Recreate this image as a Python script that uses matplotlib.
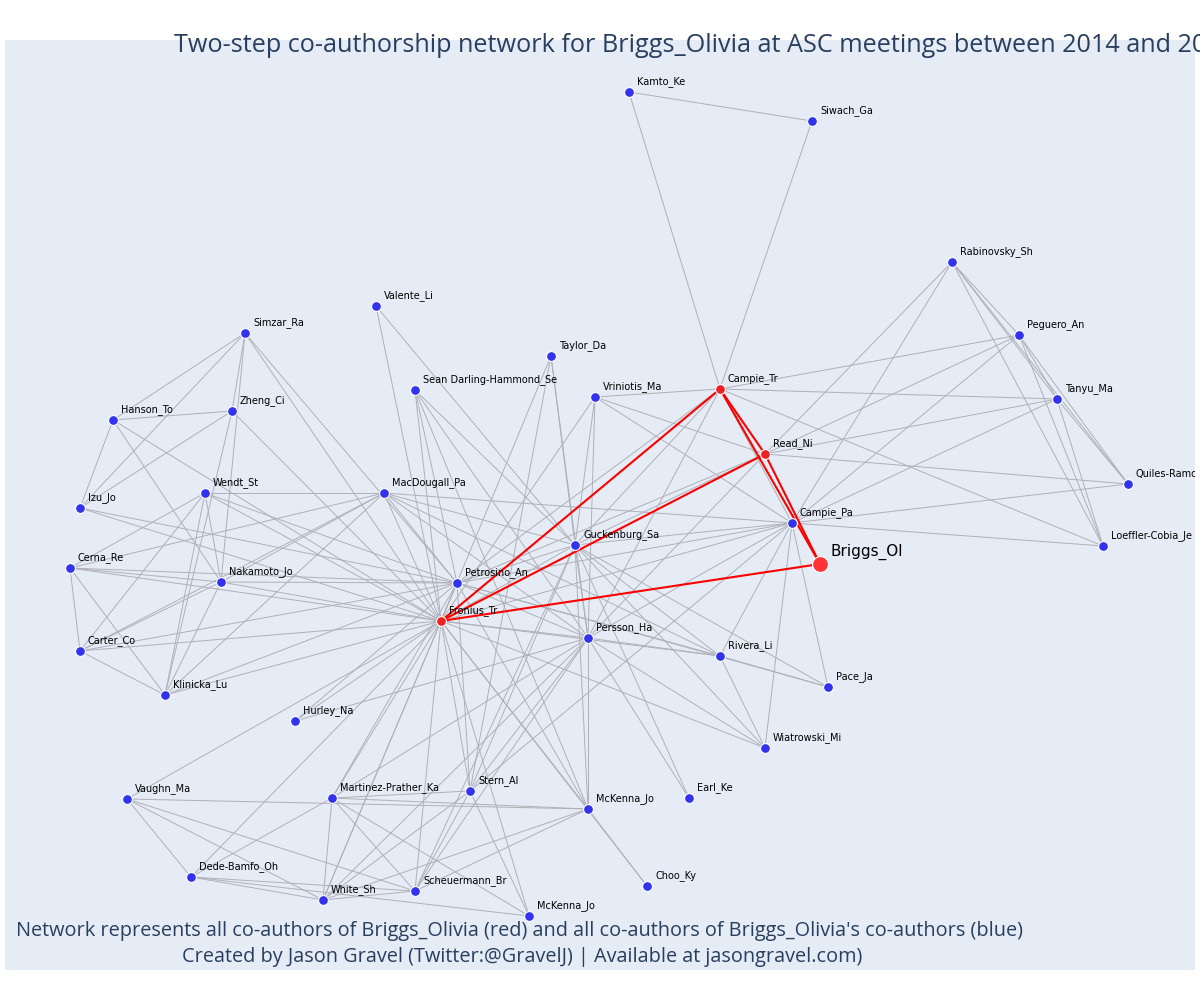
import matplotlib.pyplot as plt

# node positions (pixel space)
names = ["Kamto_Ke", "Siwach_Ga", "Rabinovsky_Sh", "Peguero_An", "Tanyu_Ma", "Quiles-Ramos",
         "Loeffler-Cobia_Je", "Valente_Li", "Simzar_Ra", "Taylor_Da", "Campie_Tr",
         "Sean Darling-Hammond_Se", "Vriniotis_Ma", "Read_Ni", "Hanson_To", "Zheng_Ci",
         "Wendt_St", "MacDougall_Pa", "Izu_Jo", "Campie_Pa", "Guckenburg_Sa", "Cerna_Re",
         "Nakamoto_Jo", "Petrosino_An", "Briggs_Ol", "Fronius_Tr", "Persson_Ha", "Carter_Co",
         "Rivera_Li", "Klinicka_Lu", "Pace_Ja", "Hurley_Na", "Wiatrowski_Mi", "Vaughn_Ma",
         "Martinez-Prather_Ka", "Stern_Al", "Earl_Ke", "McKenna_Jo", "Choo_Ky",
         "Dede-Bamfo_Oh", "Scheuermann_Br", "White_Sh", "McKenna_Jo2"]
xs = [629, 812, 952, 1019, 1057, 1128, 1103, 376, 245, 551, 720, 415, 595, 765, 113, 232,
      205, 384, 80, 792, 575, 70, 221, 457, 820, 441, 588, 80, 720, 165, 828, 295, 765, 127,
      332, 470, 689, 588, 647, 191, 415, 323, 529]
ys = [92, 121, 262, 335, 399, 484, 546, 306, 333, 356, 389, 390, 397, 454, 420, 411, 493,
      493, 508, 523, 545, 568, 582, 583, 564, 621, 638, 651, 656, 695, 687, 721, 748, 799,
      798, 791, 798, 809, 886, 877, 891, 900, 916]
red_nodes = ["Campie_Tr", "Read_Ni", "Briggs_Ol", "Fronius_Tr"]

red_edges = [("Briggs_Ol", "Fronius_Tr"), ("Briggs_Ol", "Campie_Tr"), ("Briggs_Ol", "Read_Ni"),
             ("Campie_Tr", "Fronius_Tr"), ("Read_Ni", "Fronius_Tr"), ("Campie_Tr", "Read_Ni")]

gray_edges_txt = """
Kamto_Ke Siwach_Ga|Kamto_Ke Campie_Tr|Siwach_Ga Campie_Tr
Rabinovsky_Sh Peguero_An|Rabinovsky_Sh Tanyu_Ma|Rabinovsky_Sh Quiles-Ramos|Rabinovsky_Sh Loeffler-Cobia_Je
Rabinovsky_Sh Read_Ni|Rabinovsky_Sh Campie_Pa|Peguero_An Tanyu_Ma|Peguero_An Quiles-Ramos
Peguero_An Loeffler-Cobia_Je|Peguero_An Campie_Tr|Peguero_An Read_Ni|Peguero_An Campie_Pa
Tanyu_Ma Quiles-Ramos|Tanyu_Ma Loeffler-Cobia_Je|Tanyu_Ma Campie_Tr|Tanyu_Ma Read_Ni|Tanyu_Ma Campie_Pa
Quiles-Ramos Read_Ni|Quiles-Ramos Campie_Pa|Loeffler-Cobia_Je Campie_Pa|Loeffler-Cobia_Je Campie_Tr
Campie_Tr Vriniotis_Ma|Campie_Tr Campie_Pa|Campie_Tr Persson_Ha|Campie_Tr Guckenburg_Sa|Campie_Tr Petrosino_An
Valente_Li Fronius_Tr|Valente_Li Guckenburg_Sa
Simzar_Ra Zheng_Ci|Simzar_Ra Hanson_To|Simzar_Ra Izu_Jo|Simzar_Ra Fronius_Tr|Simzar_Ra Petrosino_An|Simzar_Ra Nakamoto_Jo
Hanson_To Zheng_Ci|Hanson_To Izu_Jo|Hanson_To Fronius_Tr|Hanson_To Nakamoto_Jo|Zheng_Ci Izu_Jo|Zheng_Ci Fronius_Tr|Zheng_Ci Klinicka_Lu
Wendt_St MacDougall_Pa|Wendt_St Fronius_Tr|Wendt_St Nakamoto_Jo|Wendt_St Cerna_Re|Wendt_St Carter_Co|Wendt_St Klinicka_Lu|Wendt_St Petrosino_An
MacDougall_Pa Fronius_Tr|MacDougall_Pa Petrosino_An|MacDougall_Pa Guckenburg_Sa|MacDougall_Pa Persson_Ha|MacDougall_Pa Campie_Pa
MacDougall_Pa Cerna_Re|MacDougall_Pa Carter_Co|MacDougall_Pa Nakamoto_Jo|MacDougall_Pa Klinicka_Lu|MacDougall_Pa Rivera_Li
Izu_Jo Fronius_Tr|Izu_Jo Petrosino_An|Cerna_Re Nakamoto_Jo|Cerna_Re Fronius_Tr|Cerna_Re Petrosino_An|Cerna_Re Carter_Co|Cerna_Re Klinicka_Lu
Carter_Co Nakamoto_Jo|Carter_Co Fronius_Tr|Carter_Co Petrosino_An|Carter_Co Klinicka_Lu|Klinicka_Lu Nakamoto_Jo|Klinicka_Lu Fronius_Tr
Klinicka_Lu Petrosino_An|Nakamoto_Jo Fronius_Tr|Nakamoto_Jo Petrosino_An
Sean Darling-Hammond_Se Fronius_Tr|Sean Darling-Hammond_Se Petrosino_An|Sean Darling-Hammond_Se Guckenburg_Sa
Sean Darling-Hammond_Se Persson_Ha|Sean Darling-Hammond_Se McKenna_Jo
Taylor_Da Guckenburg_Sa|Taylor_Da Persson_Ha|Taylor_Da Fronius_Tr|Taylor_Da Stern_Al
Vriniotis_Ma Read_Ni|Vriniotis_Ma Fronius_Tr|Vriniotis_Ma Guckenburg_Sa|Vriniotis_Ma Persson_Ha|Vriniotis_Ma Campie_Pa
Read_Ni Guckenburg_Sa|Read_Ni Petrosino_An|Read_Ni Persson_Ha
Campie_Pa Fronius_Tr|Campie_Pa Petrosino_An|Campie_Pa Guckenburg_Sa|Campie_Pa Persson_Ha|Campie_Pa Rivera_Li
Campie_Pa Wiatrowski_Mi|Campie_Pa Pace_Ja|Campie_Pa Stern_Al
Guckenburg_Sa Fronius_Tr|Guckenburg_Sa Petrosino_An|Guckenburg_Sa Persson_Ha|Guckenburg_Sa Rivera_Li|Guckenburg_Sa Pace_Ja
Guckenburg_Sa Wiatrowski_Mi|Guckenburg_Sa Earl_Ke|Guckenburg_Sa McKenna_Jo|Guckenburg_Sa Stern_Al|Guckenburg_Sa Scheuermann_Br
Petrosino_An Fronius_Tr|Petrosino_An Persson_Ha|Petrosino_An Rivera_Li|Petrosino_An Pace_Ja|Petrosino_An Hurley_Na
Petrosino_An White_Sh|Petrosino_An Martinez-Prather_Ka|Petrosino_An Stern_Al|Petrosino_An McKenna_Jo
Fronius_Tr Persson_Ha|Fronius_Tr Rivera_Li|Fronius_Tr Hurley_Na|Fronius_Tr Vaughn_Ma|Fronius_Tr Martinez-Prather_Ka
Fronius_Tr Stern_Al|Fronius_Tr McKenna_Jo|Fronius_Tr Scheuermann_Br|Fronius_Tr White_Sh|Fronius_Tr Dede-Bamfo_Oh
Fronius_Tr McKenna_Jo2|Fronius_Tr Wiatrowski_Mi|Fronius_Tr Choo_Ky
Persson_Ha Rivera_Li|Persson_Ha Wiatrowski_Mi|Persson_Ha Earl_Ke|Persson_Ha McKenna_Jo|Persson_Ha Stern_Al|Persson_Ha Hurley_Na
Persson_Ha White_Sh|Persson_Ha Martinez-Prather_Ka|Persson_Ha Scheuermann_Br|Rivera_Li Pace_Ja|Rivera_Li Wiatrowski_Mi
Vaughn_Ma McKenna_Jo|Vaughn_Ma Dede-Bamfo_Oh|Vaughn_Ma White_Sh|Vaughn_Ma Scheuermann_Br
Martinez-Prather_Ka Dede-Bamfo_Oh|Martinez-Prather_Ka White_Sh|Martinez-Prather_Ka Scheuermann_Br|Martinez-Prather_Ka McKenna_Jo
Martinez-Prather_Ka Stern_Al|Martinez-Prather_Ka McKenna_Jo2|Stern_Al White_Sh|Stern_Al Scheuermann_Br|Stern_Al McKenna_Jo2
McKenna_Jo Scheuermann_Br|McKenna_Jo White_Sh|McKenna_Jo Choo_Ky|Dede-Bamfo_Oh White_Sh|Dede-Bamfo_Oh Scheuermann_Br
Dede-Bamfo_Oh McKenna_Jo2|White_Sh Scheuermann_Br
"""
gray_edges = []
for chunk in gray_edges_txt.replace("\n", "|").split("|"):
    chunk = chunk.strip()
    if not chunk:
        continue
    a, b = chunk.rsplit(" ", 1)
    gray_edges.append((a, b))

pos = {n: (x, y) for n, x, y in zip(names, xs, ys)}

fig = plt.figure(figsize=(12, 10), dpi=100)
ax = fig.add_axes([5/1200, 30/1000, 1190/1200, 930/1000])
ax.set_facecolor("#E5ECF6")
ax.set_xlim(5, 1195)
ax.set_ylim(970, 40)
ax.set_xticks([]); ax.set_yticks([])
for s in ax.spines.values():
    s.set_visible(False)

for a, b in gray_edges:
    ax.plot([pos[a][0], pos[b][0]], [pos[a][1], pos[b][1]], color="#b0b0b8", lw=0.7, zorder=1)
for a, b in red_edges:
    ax.plot([pos[a][0], pos[b][0]], [pos[a][1], pos[b][1]], color="red", lw=1.5, zorder=2)

for n in names:
    x, y = pos[n]
    label = "McKenna_Jo" if n == "McKenna_Jo2" else n
    if n == "Briggs_Ol":
        ax.scatter(x, y, s=130, color="#ff3333", edgecolor="white", lw=0.8, zorder=3)
        ax.text(x + 11, y - 4, label, fontsize=11, ha="left", va="bottom", color="black")
    else:
        c = "#ee2222" if n in red_nodes else "#3333ee"
        ax.scatter(x, y, s=50, color=c, edgecolor="white", lw=0.8, zorder=3)
        ax.text(x + 8, y - 5, label, fontsize=7, ha="left", va="bottom", color="black",
                clip_on=True)

fig.text(0.587, 0.955, "Two-step co-authorship network for Briggs_Olivia at ASC meetings between 2014 and 2019",
         ha="center", va="center", fontsize=18.2, color="#2a3f5f", family="Open Sans")
fig.text(0.433, 0.069, "Network represents all co-authors of Briggs_Olivia (red) and all co-authors of Briggs_Olivia's co-authors (blue)",
         ha="center", va="center", fontsize=14.3, color="#2a3f5f", family="Open Sans")
fig.text(0.435, 0.043, "Created by Jason Gravel (Twitter:@GravelJ) | Available at jasongravel.com)",
         ha="center", va="center", fontsize=14.3, color="#2a3f5f", family="Open Sans")

fig.savefig("out.png", dpi=100)
